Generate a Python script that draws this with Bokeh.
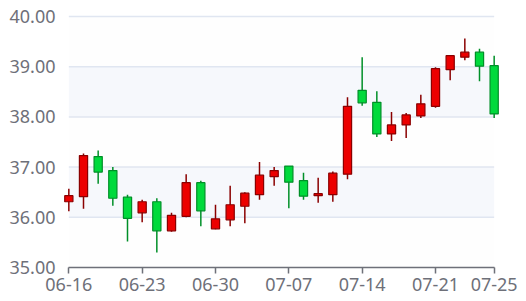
from bokeh.plotting import figure
from bokeh.models import Range1d, FixedTicker, ColumnDataSource, NumeralTickFormatter
from bokeh.embed import file_html
from bokeh.resources import INLINE

dates = ["06-16", "06-17", "06-18", "06-19", "06-20",
         "06-23", "06-24", "06-25", "06-26", "06-27",
         "06-30", "07-01", "07-02", "07-03", "07-04",
         "07-07", "07-08", "07-09", "07-10", "07-11",
         "07-14", "07-15", "07-16", "07-17", "07-18",
         "07-21", "07-22", "07-23", "07-24", "07-25"]
opens = [36.31, 36.41, 37.21, 36.93, 36.40,
         36.09, 36.31, 35.73, 36.02, 36.69,
         35.77, 35.95, 36.22, 36.45, 36.81,
         37.02, 36.73, 36.43, 36.45, 36.86,
         38.53, 38.29, 37.66, 37.84, 38.02,
         38.21, 38.94, 39.19, 39.29, 39.02]
closes = [36.43, 37.23, 36.90, 36.38, 35.98,
          36.31, 35.73, 36.04, 36.69, 36.13,
          35.97, 36.25, 36.48, 36.84, 36.93,
          36.70, 36.42, 36.47, 36.88, 38.21,
          38.28, 37.66, 37.84, 38.04, 38.26,
          38.96, 39.22, 39.29, 39.01, 38.06]
lows = [36.12, 36.17, 36.67, 36.23, 35.52,
        35.90, 35.30, 35.71, 36.00, 35.82,
        35.76, 35.82, 35.88, 36.35, 36.63,
        36.18, 36.35, 36.29, 36.31, 36.76,
        38.22, 37.60, 37.52, 37.58, 37.98,
        38.18, 38.73, 39.13, 38.71, 37.98]
highs = [36.57, 37.27, 37.33, 37.00, 36.45,
         36.35, 36.38, 36.09, 36.86, 36.73,
         36.25, 36.63, 36.50, 37.10, 37.00,
         37.02, 36.89, 36.79, 36.91, 38.39,
         39.19, 38.51, 38.10, 38.08, 38.44,
         38.99, 39.22, 39.56, 39.36, 39.22]
tick_idx = [0, 5, 10, 15, 20, 25, 29]
y_ticks = [35, 36, 37, 38, 39, 40]

UP_FILL, UP_LINE = "#ec0000", "#8a0000"
DN_FILL, DN_LINE = "#00da3c", "#008f28"

n = len(dates)
xs = list(range(n))
fill = [UP_FILL if c >= o else DN_FILL for o, c in zip(opens, closes)]
line = [UP_LINE if c >= o else DN_LINE for o, c in zip(opens, closes)]
src = ColumnDataSource(dict(
    x=xs, open=opens, close=closes, low=lows, high=highs,
    top=[max(o, c) for o, c in zip(opens, closes)],
    bottom=[min(o, c) for o, c in zip(opens, closes)],
    fill=fill, line=line))

p = figure(width=526, height=301, output_backend="svg", toolbar_location=None,
           x_range=Range1d(-0.5, n - 0.5), y_range=Range1d(35, 40.04),
           min_border_left=61, min_border_right=25, min_border_top=14,
           min_border_bottom=34)
p.background_fill_color = "white"
p.border_fill_color = "white"
p.outline_line_color = None
p.xgrid.visible = False
p.ygrid.visible = False

# split areas
band_bottoms = y_ticks[:-1]
band_colors = ["#fefefe" if i % 2 == 0 else "#f6f8fc" for i in range(len(band_bottoms))]
p.quad(left=0, right=n - 1, bottom=band_bottoms, top=[b + 1 for b in band_bottoms],
       fill_color=band_colors, line_color=None)
# grid lines
p.segment(x0=0, x1=n - 1, y0=y_ticks[1:], y1=y_ticks[1:], line_color="#e0e6f1", line_width=1.5)

# candles
p.segment(x0="x", x1="x", y0="low", y1="high", line_color="line", line_width=1.5, source=src)
p.vbar(x="x", width=0.56, top="top", bottom="bottom", fill_color="fill",
       line_color="line", line_width=1.2, source=src)

FONT = "Noto Sans"
ax = p.xaxis[0]
ax.ticker = FixedTicker(ticks=tick_idx)
ax.major_label_overrides = {i: dates[i] for i in tick_idx}
ax.bounds = (0, n - 1)
ax.axis_line_color = "#6e7079"
ax.axis_line_width = 1.5
ax.major_tick_line_color = "#6e7079"
ax.major_tick_line_width = 1.5
ax.major_tick_in = 0
ax.major_tick_out = 6
ax.minor_tick_line_color = None
ax.major_label_text_font = FONT
ax.major_label_text_font_size = "18px"
ax.major_label_text_color = "#6e7079"
ax.major_label_standoff = 4

ay = p.yaxis[0]
ay.ticker = FixedTicker(ticks=y_ticks)
ay.formatter = NumeralTickFormatter(format="0.00")
ay.axis_line_color = None
ay.major_tick_line_color = None
ay.minor_tick_line_color = None
ay.major_tick_in = 0
ay.major_tick_out = 0
ay.major_label_text_font = FONT
ay.major_label_text_font_size = "18px"
ay.major_label_text_color = "#6e7079"
ay.major_label_standoff = 6

open("out.html", "w").write(file_html(p, INLINE))
